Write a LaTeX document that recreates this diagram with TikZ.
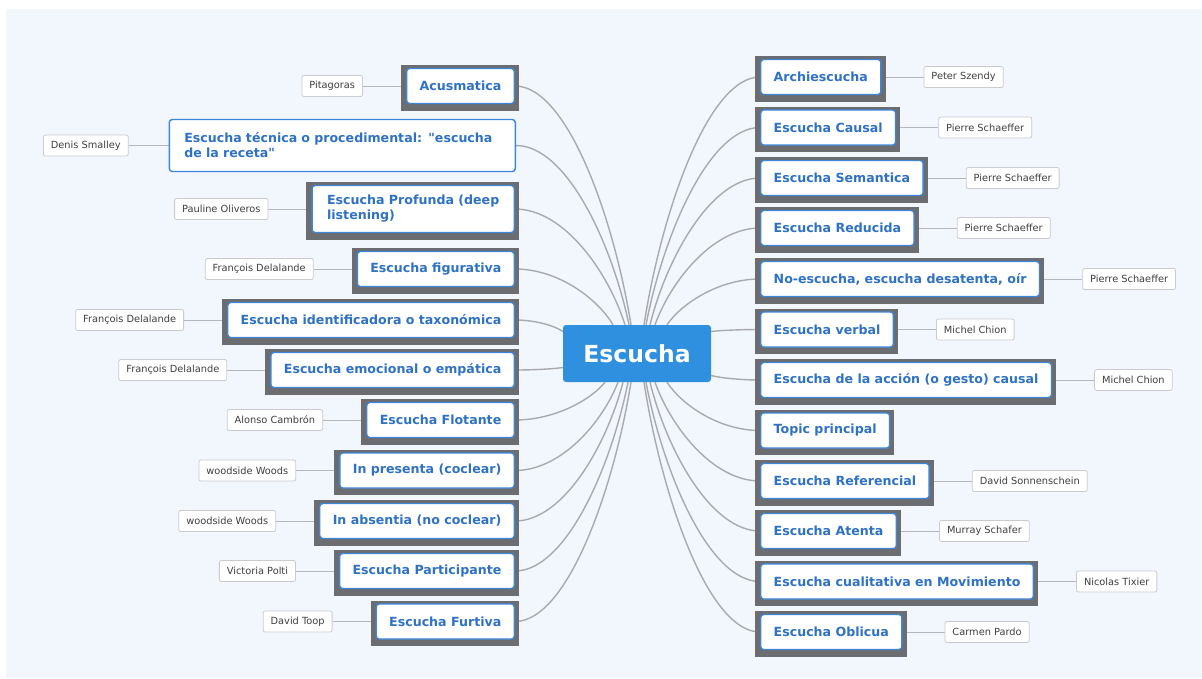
\documentclass[tikz,border=0pt]{standalone}
\usepackage{fontspec}
\setmainfont{DejaVu Sans}[Ligatures=TeXOff]
\usetikzlibrary{calc,positioning}

\definecolor{bgc}{HTML}{F2F6FD}
\definecolor{topicblue}{HTML}{2F72C4}
\definecolor{boxline}{HTML}{3D86DA}
\definecolor{framec}{HTML}{6C6D70}
\definecolor{linec}{HTML}{A9AAAD}
\definecolor{rootc}{HTML}{2E90DE}
\definecolor{authline}{HTML}{C9CBCF}
\definecolor{authtext}{HTML}{3F3F3F}

\pgfdeclarelayer{back}
\pgfdeclarelayer{mid}
\pgfsetlayers{back,mid,main}

\begin{document}
\begin{tikzpicture}[x=1pt,y=-1pt,
  root/.style={fill=rootc, rounded corners=3pt, minimum width=148pt, minimum height=57pt,
    text=white, font=\fontsize{23.5}{28}\selectfont\bfseries},
  topic/.style={draw=boxline, line width=1.4pt, fill=white, rounded corners=3pt,
    text=topicblue, font=\fontsize{12.6}{15}\selectfont\bfseries,
    minimum height=35pt, inner xsep=13pt, inner ysep=4pt},
  ltopic/.style={topic, anchor=east},
  rtopic/.style={topic, anchor=west},
  author/.style={draw=authline, line width=0.8pt, fill=white, rounded corners=2pt,
    text=authtext, font=\fontsize{9.8}{11}\selectfont,
    minimum height=21pt, inner xsep=7.5pt, inner ysep=2pt},
  conn/.style={draw=linec, line width=1.4pt},
  aconn/.style={draw=authline!90!black, line width=0.9pt}
]
\useasboundingbox (0,0) rectangle (1202,678);
\begin{pgfonlayer}{back}
\fill[white] (0,0) rectangle (1202,678);
\fill[bgc] (6,9) rectangle (1202,678);
\end{pgfonlayer}

% central topic
\node[root] (c) at (637,353.5) {Escucha};

% left branch
\node[ltopic] (L1) at (515,86) {Acusmatica};
\node[ltopic, align=left, text width=316pt, minimum height=52pt, inner xsep=15pt] (L2) at (516,145.5)
  {Escucha técnica o procedimental: "escucha\\de la receta"};
\node[ltopic, align=left, minimum height=47pt, inner xsep=15pt] (L3) at (515,209)
  {Escucha Profunda (deep\\listening)};
\node[ltopic] (L4) at (515,269) {Escucha figurativa};
\node[ltopic] (L5) at (515,320) {Escucha identificadora o taxonómica};
\node[ltopic] (L6) at (515,370) {Escucha emocional o empática};
\node[ltopic] (L7) at (515,420) {Escucha Flotante};
\node[ltopic] (L8) at (515,470.5) {In presenta (coclear)};
\node[ltopic] (L9) at (515,521) {In absentia (no coclear)};
\node[ltopic] (L10) at (515,571) {Escucha Participante};
\node[ltopic] (L11) at (515,621.5) {Escucha Furtiva};

% right branch
\node[rtopic] (R1) at (760,77) {Archiescucha};
\node[rtopic] (R2) at (760,127.5) {Escucha Causal};
\node[rtopic] (R3) at (760,178) {Escucha Semantica};
\node[rtopic] (R4) at (760,228) {Escucha Reducida};
\node[rtopic] (R5) at (760,279) {No-escucha, escucha desatenta, oír};
\node[rtopic] (R6) at (760,329.5) {Escucha verbal};
\node[rtopic] (R7) at (760,380) {Escucha de la acción (o gesto) causal};
\node[rtopic] (R8) at (760,430.5) {Topic principal};
\node[rtopic] (R9) at (760,481) {Escucha Referencial};
\node[rtopic] (R10) at (760,531) {Escucha Atenta};
\node[rtopic] (R11) at (760,581.5) {Escucha cualitativa en Movimiento};
\node[rtopic] (R12) at (760,632) {Escucha Oblicua};

% authors, left
\node[author, left=43pt of L1] (A1) {Pitagoras};
\node[author, left=40pt of L2] (A2) {Denis Smalley};
\node[author, left=43pt of L3] (A3) {Pauline Oliveros};
\node[author, left=43pt of L4] (A4) {François Delalande};
\node[author, left=43pt of L5] (A5) {François Delalande};
\node[author, left=43pt of L6] (A6) {François Delalande};
\node[author, left=43pt of L7] (A7) {Alonso Cambrón};
\node[author, left=43pt of L8] (A8) {woodside Woods};
\node[author, left=43pt of L9] (A9) {woodside Woods};
\node[author, left=43pt of L10] (A10) {Victoria Polti};
\node[author, left=43pt of L11] (A11) {David Toop};

% authors, right
\node[author, right=42pt of R1] (B1) {Peter Szendy};
\node[author, right=42pt of R2] (B2) {Pierre Schaeffer};
\node[author, right=42pt of R3] (B3) {Pierre Schaeffer};
\node[author, right=42pt of R4] (B4) {Pierre Schaeffer};
\node[author, right=42pt of R5] (B5) {Pierre Schaeffer};
\node[author, right=42pt of R6] (B6) {Michel Chion};
\node[author, right=42pt of R7] (B7) {Michel Chion};
\node[author, right=42pt of R9] (B9) {David Sonnenschein};
\node[author, right=42pt of R10] (B10) {Murray Schafer};
\node[author, right=42pt of R11] (B11) {Nicolas Tixier};
\node[author, right=42pt of R12] (B12) {Carmen Pardo};

% dark frames behind the topic boxes
\begin{pgfonlayer}{mid}
\foreach \nd in {L1,L3,L4,L5,L6,L7,L8,L9,L10,L11,R1,R2,R3,R4,R5,R6,R7,R8,R9,R10,R11,R12}
  \fill[framec] ($(\nd.north west)+(-5,-2.5)$) rectangle ($(\nd.south east)+(4,6.5)$);
\end{pgfonlayer}

% connectors
\begin{pgfonlayer}{back}
\foreach \nd/\sd/\ox/\oy in {L1/north/-6/0, L2/north/-8/0, L3/north/-12/0, L4/north/-24/0,
    L5/west/0/-22, L6/west/0/14,
    L7/south/-32/0, L8/south/-19/0, L9/south/-14/0, L10/south/-9/0, L11/south/-6/0}
{
  \coordinate (s) at (\nd.east);
  \coordinate (t) at ($(c.\sd)+(\ox,\oy)$);
  \draw[conn] let \p1=(s), \p2=(t) in
    (s) .. controls ({\x1+0.45*(\x2-\x1)},\y1) and ({\x2-0.15*(\x2-\x1)},{\y2-0.45*(\y2-\y1)}) .. (t);
}
\foreach \nd/\sd/\ox/\oy in {R1/north/7/0, R2/north/9/0, R3/north/13/0, R4/north/18/0, R5/north/30/0,
    R6/east/0/-22, R7/east/0/22,
    R8/south/30/0, R9/south/18/0, R10/south/13/0, R11/south/9/0, R12/south/7/0}
{
  \coordinate (s) at (\nd.west);
  \coordinate (t) at ($(c.\sd)+(\ox,\oy)$);
  \draw[conn] let \p1=(s), \p2=(t) in
    (s) .. controls ({\x1+0.45*(\x2-\x1)},\y1) and ({\x2-0.15*(\x2-\x1)},{\y2-0.45*(\y2-\y1)}) .. (t);
}
\foreach \tp/\au in {L1/A1,L2/A2,L3/A3,L4/A4,L5/A5,L6/A6,L7/A7,L8/A8,L9/A9,L10/A10,L11/A11}
  \draw[aconn] (\tp.west) -- (\au.east);
\foreach \tp/\au in {R1/B1,R2/B2,R3/B3,R4/B4,R5/B5,R6/B6,R7/B7,R9/B9,R10/B10,R11/B11,R12/B12}
  \draw[aconn] (\tp.east) -- (\au.west);
\end{pgfonlayer}
\end{tikzpicture}
\end{document}
